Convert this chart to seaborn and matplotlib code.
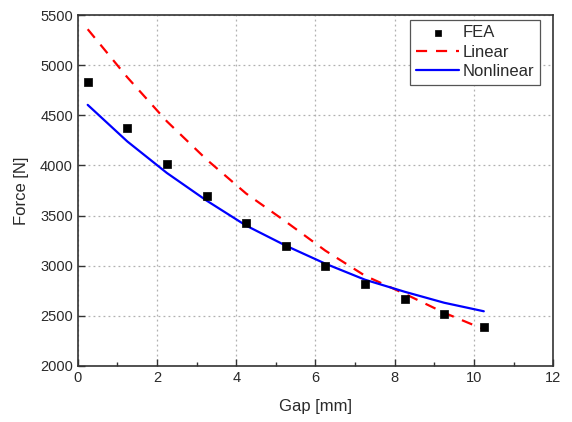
import numpy as np
import pandas as pd
import matplotlib
matplotlib.use("Agg")
import matplotlib.pyplot as plt
import seaborn as sns
from matplotlib.ticker import MultipleLocator

gap = [0.25, 1.25, 2.25, 3.25, 4.25, 5.25, 6.25, 7.25, 8.25, 9.25, 10.25]
fea = [4830, 4378, 4012, 3692, 3425, 3193, 2995, 2817, 2663, 2518, 2390]
linear = [5360, 4880, 4440, 4060, 3720, 3440, 3150, 2900, 2720, 2530, 2365]
nonlinear = [4605, 4240, 3925, 3650, 3400, 3200, 3020, 2860, 2740, 2630, 2545]

df = pd.DataFrame({"Gap": gap, "FEA": fea, "Linear": linear, "Nonlinear": nonlinear})

sns.set_style("ticks")
plt.rcParams["font.family"] = ["Liberation Sans", "DejaVu Sans"]
txt = "#2a2a2a"

fig = plt.figure(figsize=(5.72, 4.22), dpi=100)
ax = fig.add_axes([0.136, 0.133, 0.831, 0.831])

sns.lineplot(data=df, x="Gap", y="Linear", ax=ax, color="#ff0000", linewidth=1.6,
             linestyle=(0, (5, 4)), label="Linear", zorder=3)
sns.lineplot(data=df, x="Gap", y="Nonlinear", ax=ax, color="#0000ff", linewidth=1.6,
             label="Nonlinear", zorder=3)
sns.scatterplot(data=df, x="Gap", y="FEA", ax=ax, color="black", marker="s", s=40,
                edgecolor="black", linewidth=0.5, label="FEA", zorder=4)

ax.set_xlim(0, 12)
ax.set_ylim(2000, 5500)
ax.xaxis.set_major_locator(MultipleLocator(2))
ax.xaxis.set_minor_locator(MultipleLocator(1))
ax.yaxis.set_major_locator(MultipleLocator(500))
ax.grid(True, which="major", color="#b0b0b0", linestyle=(0, (1.5, 2.5)), linewidth=0.9)
ax.set_axisbelow(True)

ax.tick_params(axis="both", which="major", direction="in", length=5, width=1.0,
               labelsize=10.5, colors="#333333", labelcolor=txt, top=False, right=False)
ax.tick_params(axis="x", which="minor", direction="in", length=3, width=1.0, top=False,
               colors="#333333")
for sp in ax.spines.values():
    sp.set_visible(True)
    sp.set_linewidth(1.2)
    sp.set_color("#333333")

ax.set_xlabel("Gap [mm]", fontsize=12, labelpad=10, color=txt)
ax.set_ylabel("Force [N]", fontsize=12, labelpad=8, color=txt)

handles, labels = ax.get_legend_handles_labels()
order = [labels.index(l) for l in ["FEA", "Linear", "Nonlinear"]]
leg = ax.legend([handles[i] for i in order], [labels[i] for i in order],
                loc="upper right", bbox_to_anchor=(0.98, 0.997), fontsize=12,
                fancybox=False, framealpha=1, edgecolor="#555555",
                handlelength=2.6, handletextpad=0.2, borderpad=0.35,
                labelspacing=0.25, borderaxespad=0.2, markerscale=0.7,
                labelcolor=txt)
leg.get_frame().set_linewidth(0.9)

fig.savefig("out.png", dpi=100)
